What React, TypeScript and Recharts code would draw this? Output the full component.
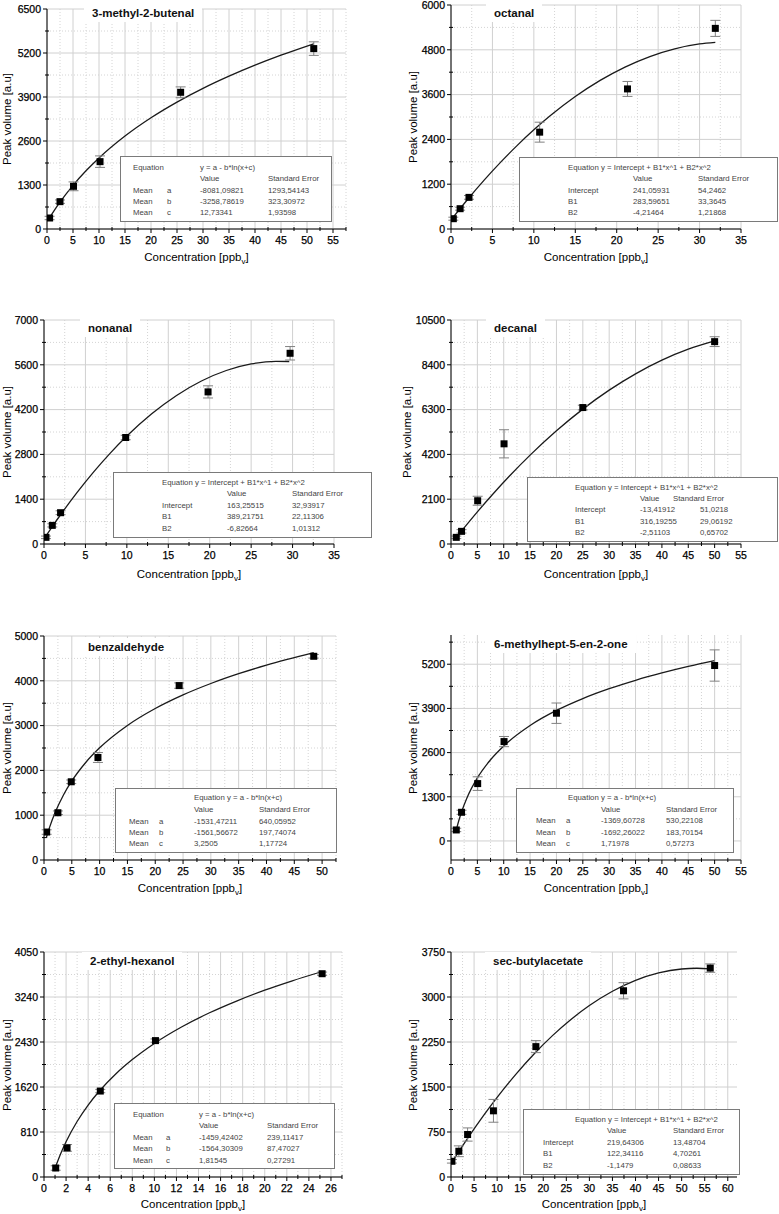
import React from "react";
import {
  CartesianGrid,
  ComposedChart,
  ErrorBar,
  Line,
  Scatter,
  XAxis,
  YAxis,
} from "recharts";

const FONT = '"Liberation Sans", Arial, Helvetica, sans-serif';

// ---- 3-methyl-2-butenal
const butenalConc = [0.5, 2.5, 5.1, 10.2, 25.7, 51.3];
const butenalPeak = [325, 808, 1261, 1990, 4039, 5330];
const butenalErr = [50, 50, 130, 170, 160, 200];
const butenalFitX = [0.5, 1.5, 2.5, 5, 7.5, 10, 15, 20, 25, 30, 35, 40, 45, 51.3];
const butenalFitY = [336, 573, 794, 1289, 1719, 2099, 2747, 3287, 3750, 4156, 4516, 4841, 5136, 5474];
const butenalXTicks = [0, 5, 10, 15, 20, 25, 30, 35, 40, 45, 50, 55];
const butenalYTicks = [0, 1300, 2600, 3900, 5200, 6500];
const butenalParams = [
  ["Mean", "a", "-8081,09821", "1293,54143"],
  ["Mean", "b", "-3258,78619", "323,30972"],
  ["Mean", "c", "12,73341", "1,93598"],
];

// ---- octanal
const octanalConc = [0.28, 1.1, 2.17, 10.7, 21.3, 31.9];
const octanalPeak = [276, 544, 847, 2594, 3752, 5374];
const octanalErr = [40, 40, 50, 267, 200, 215];
const octanalFitX = [0.28, 1, 2, 4, 6, 8, 10, 12, 15, 18, 21, 24, 27, 30, 31.9];
const octanalFitY = [320, 520, 791, 1308, 1791, 2240, 2656, 3037, 3547, 3980, 4338, 4620, 4826, 4956, 4999];
const octanalXTicks = [0, 5, 10, 15, 20, 25, 30, 35];
const octanalYTicks = [0, 1200, 2400, 3600, 4800, 6000];
const octanalParams = [
  ["Intercept", "241,05931", "54,2462"],
  ["B1", "283,59651", "33,3645"],
  ["B2", "-4,21464", "1,21868"],
];

// ---- nonanal
const nonanalConc = [0.24, 1.0, 2.0, 9.86, 19.8, 29.7];
const nonanalPeak = [208, 582, 978, 3328, 4753, 5960];
const nonanalErr = [40, 50, 60, 70, 190, 210];
const nonanalFitX = [0.24, 1, 2, 4, 6, 8, 10, 13, 16, 19, 22, 25, 28, 29.6];
const nonanalFitY = [256, 546, 914, 1611, 2253, 2840, 3373, 4069, 4643, 5094, 5422, 5627, 5709, 5703];
const nonanalXTicks = [0, 5, 10, 15, 20, 25, 30, 35];
const nonanalYTicks = [0, 1400, 2800, 4200, 5600, 7000];
const nonanalParams = [
  ["Intercept", "163,25515", "32,93917"],
  ["B1", "389,21751", "22,11306"],
  ["B2", "-6,82664", "1,01312"],
];

// ---- decanal
const decanalConc = [1.0, 2.0, 5.06, 10.06, 25.0, 50.0];
const decanalPeak = [312, 593, 2028, 4696, 6396, 9485];
const decanalErr = [60, 80, 210, 660, 110, 230];
const decanalFitX = [2, 5, 8, 11, 15, 20, 25, 30, 35, 40, 45, 50];
const decanalFitY = [609, 1505, 2355, 3161, 4165, 5306, 6322, 7212, 7977, 8617, 9130, 9519];
const decanalXTicks = [0, 5, 10, 15, 20, 25, 30, 35, 40, 45, 50, 55];
const decanalYTicks = [0, 2100, 4200, 6300, 8400, 10500];
const decanalParams = [
  ["Intercept", "-13,41912", "51,0218"],
  ["B1", "316,19255", "29,06192"],
  ["B2", "-2,51103", "0,65702"],
];

// ---- benzaldehyde
const benzConc = [0.48, 2.5, 4.9, 9.7, 24.3, 48.5];
const benzPeak = [624, 1055, 1746, 2288, 3893, 4547];
const benzErr = [50, 40, 40, 110, 60, 40];
const benzFitX = [0.4, 1, 2, 3.5, 5, 7.5, 10, 15, 20, 25, 30, 35, 40, 48.5];
const benzFitY = [491, 728, 1058, 1451, 1764, 2177, 2504, 3004, 3382, 3686, 3940, 4159, 4351, 4631];
const benzXTicks = [0, 5, 10, 15, 20, 25, 30, 35, 40, 45, 50];
const benzYTicks = [0, 1000, 2000, 3000, 4000, 5000];
const benzParams = [
  ["Mean", "a", "-1531,47211", "640,05952"],
  ["Mean", "b", "-1561,56672", "197,74074"],
  ["Mean", "c", "3,2505", "1,17724"],
];

// ---- 6-methylhept-5-en-2-one
const mhConc = [1.0, 2.0, 5.06, 10.06, 20.0, 50.0];
const mhPeak = [324, 844, 1688, 2924, 3759, 5162];
const mhErr = [50, 60, 200, 150, 300, 460];
const mhFitX = [1, 1.5, 2, 3, 5, 7.5, 10, 15, 20, 25, 30, 35, 40, 45, 50];
const mhFitY = [324, 609, 854, 1257, 1854, 2390, 2796, 3397, 3840, 4190, 4480, 4728, 4944, 5136, 5308];
const mhXTicks = [0, 5, 10, 15, 20, 25, 30, 35, 40, 45, 50, 55];
const mhYTicks = [0, 1300, 2600, 3900, 5200];
const mhParams = [
  ["Mean", "a", "-1369,60728", "530,22108"],
  ["Mean", "b", "-1692,26022", "183,70154"],
  ["Mean", "c", "1,71978", "0,57273"],
];

// ---- 2-ethyl-hexanol
const ehConc = [1.06, 2.09, 5.1, 10.1, 25.2];
const ehPeak = [162, 524, 1547, 2455, 3659];
const ehErr = [40, 60, 30, 30, 30];
const ehFitX = [1, 1.5, 2, 3, 4, 5, 6.5, 8, 10, 12.5, 15, 17.5, 20, 22.5, 25];
const ehFitY = [160, 416, 635, 999, 1295, 1543, 1854, 2113, 2404, 2704, 2956, 3172, 3363, 3532, 3686];
const ehXTicks = [0, 2, 4, 6, 8, 10, 12, 14, 16, 18, 20, 22, 24, 26];
const ehYTicks = [0, 810, 1620, 2430, 3240, 4050];
const ehParams = [
  ["Mean", "a", "-1459,42402", "239,11417"],
  ["Mean", "b", "-1564,30309", "87,47027"],
  ["Mean", "c", "1,81545", "0,27291"],
];

// ---- sec-butylacetate
const sbConc = [0.2, 1.7, 3.6, 9.2, 18.4, 37.4, 56.2];
const sbPeak = [262, 429, 708, 1103, 2173, 3104, 3482];
const sbErr = [30, 90, 110, 190, 100, 135, 70];
const sbFitX = [0.2, 2, 4, 7, 10, 14, 18, 22, 26, 30, 35, 40, 45, 50, 53.3, 56.2];
const sbFitY = [244, 460, 691, 1020, 1328, 1707, 2050, 2356, 2625, 2857, 3095, 3277, 3401, 3467, 3479, 3470];
const sbXTicks = [0, 5, 10, 15, 20, 25, 30, 35, 40, 45, 50, 55, 60];
const sbYTicks = [0, 750, 1500, 2250, 3000, 3750];
const sbParams = [
  ["Intercept", "219,64306", "13,48704"],
  ["B1", "122,34116", "4,70261"],
  ["B2", "-1,1479", "0,08633"],
];

const EQ_POLY = "Equation y = Intercept + B1*x^1 + B2*x^2";
const EQ_LOG = "y = a - b*ln(x+c)";

type Txt = [string, number, number];
type Spec = {
  title: string;
  box: [number, number, number, number];
  plot: [number, number, number, number];
  xDomain: [number, number];
  yDomain: [number, number];
  xTicks: number[];
  yTicks: number[];
  conc: number[];
  peak: number[];
  err: number[];
  fitX: number[];
  fitY: number[];
  titleAt: [number, number];
  yLabelX: number;
  xLabelY: number;
  tableRect: [number, number, number, number];
  tableTexts: Txt[];
};

function tableTexts(head: Txt[], rowYs: number[], colXs: number[], rows: string[][]): Txt[] {
  const out: Txt[] = [...head];
  rows.forEach((row, i) =>
    row.forEach((cell, j) => {
      out.push([cell, colXs[j], rowYs[i]]);
    })
  );
  return out;
}

const specs: Spec[] = [
  {
    title: "3-methyl-2-butenal",
    box: [0, 0, 390, 300],
    plot: [47, 346, 9, 229],
    xDomain: [0, 57.5],
    yDomain: [0, 6500],
    xTicks: butenalXTicks,
    yTicks: butenalYTicks,
    conc: butenalConc,
    peak: butenalPeak,
    err: butenalErr,
    fitX: butenalFitX,
    fitY: butenalFitY,
    titleAt: [92, 13],
    yLabelX: 7,
    xLabelY: 258,
    tableRect: [120, 156, 212, 66],
    tableTexts: tableTexts(
      [["Equation", 133, 168], [EQ_LOG, 200, 168], ["Value", 200, 179], ["Standard Error", 268, 179]],
      [191, 202, 213],
      [133, 167, 200, 268],
      butenalParams
    ),
  },
  {
    title: "octanal",
    box: [390, 0, 389, 300],
    plot: [451, 741, 5, 229],
    xDomain: [0, 35],
    yDomain: [0, 6000],
    xTicks: octanalXTicks,
    yTicks: octanalYTicks,
    conc: octanalConc,
    peak: octanalPeak,
    err: octanalErr,
    fitX: octanalFitX,
    fitY: octanalFitY,
    titleAt: [494, 13],
    yLabelX: 413,
    xLabelY: 258,
    tableRect: [519, 157, 259, 65],
    tableTexts: tableTexts(
      [[EQ_POLY, 568, 168], ["Value", 633, 179], ["Standard Error", 698, 179]],
      [191, 202, 213],
      [568, 633, 698],
      octanalParams
    ),
  },
  {
    title: "nonanal",
    box: [0, 300, 390, 300],
    plot: [44, 334, 320, 544],
    xDomain: [0, 35],
    yDomain: [0, 7000],
    xTicks: nonanalXTicks,
    yTicks: nonanalYTicks,
    conc: nonanalConc,
    peak: nonanalPeak,
    err: nonanalErr,
    fitX: nonanalFitX,
    fitY: nonanalFitY,
    titleAt: [88, 328],
    yLabelX: 7,
    xLabelY: 575,
    tableRect: [113, 472, 259, 66],
    tableTexts: tableTexts(
      [[EQ_POLY, 162, 483], ["Value", 227, 494], ["Standard Error", 292, 494]],
      [506, 517, 529],
      [162, 227, 292],
      nonanalParams
    ),
  },
  {
    title: "decanal",
    box: [390, 300, 389, 300],
    plot: [451, 741, 320, 544],
    xDomain: [0, 55],
    yDomain: [0, 10500],
    xTicks: decanalXTicks,
    yTicks: decanalYTicks,
    conc: decanalConc,
    peak: decanalPeak,
    err: decanalErr,
    fitX: decanalFitX,
    fitY: decanalFitY,
    titleAt: [494, 328],
    yLabelX: 407,
    xLabelY: 575,
    tableRect: [527, 477, 251, 65],
    tableTexts: tableTexts(
      [[EQ_POLY, 575, 488], ["Value", 640, 499], ["Standard Error", 673, 499]],
      [510, 522, 533],
      [575, 640, 700],
      decanalParams
    ),
  },
  {
    title: "benzaldehyde",
    box: [0, 600, 390, 300],
    plot: [44, 336, 636, 860],
    xDomain: [0, 52.5],
    yDomain: [0, 5000],
    xTicks: benzXTicks,
    yTicks: benzYTicks,
    conc: benzConc,
    peak: benzPeak,
    err: benzErr,
    fitX: benzFitX,
    fitY: benzFitY,
    titleAt: [88, 647],
    yLabelX: 7,
    xLabelY: 889,
    tableRect: [115, 788, 222, 65],
    tableTexts: tableTexts(
      [["Equation " + EQ_LOG, 194, 798], ["Value", 194, 810], ["Standard Error", 259, 810]],
      [822, 833, 844],
      [129, 159, 194, 259],
      benzParams
    ),
  },
  {
    title: "6-methylhept-5-en-2-one",
    box: [390, 600, 389, 300],
    plot: [451, 741, 635, 860],
    xDomain: [0, 55],
    yDomain: [-560, 6060],
    xTicks: mhXTicks,
    yTicks: mhYTicks,
    conc: mhConc,
    peak: mhPeak,
    err: mhErr,
    fitX: mhFitX,
    fitY: mhFitY,
    titleAt: [494, 644],
    yLabelX: 413,
    xLabelY: 889,
    tableRect: [516, 788, 218, 65],
    tableTexts: tableTexts(
      [["Equation " + EQ_LOG, 568, 798], ["Value", 601, 810], ["Standard Error", 666, 810]],
      [821, 833, 844],
      [536, 566, 601, 666],
      mhParams
    ),
  },
  {
    title: "2-ethyl-hexanol",
    box: [0, 900, 390, 314],
    plot: [44, 342, 952, 1177],
    xDomain: [0, 27],
    yDomain: [0, 4050],
    xTicks: ehXTicks,
    yTicks: ehYTicks,
    conc: ehConc,
    peak: ehPeak,
    err: ehErr,
    fitX: ehFitX,
    fitY: ehFitY,
    titleAt: [90, 961],
    yLabelX: 7,
    xLabelY: 1205,
    tableRect: [114, 1103, 221, 66],
    tableTexts: tableTexts(
      [["Equation", 133, 1115], [EQ_LOG, 199, 1115], ["Value", 199, 1126], ["Standard Error", 267, 1126]],
      [1138, 1149, 1161],
      [133, 166, 199, 267],
      ehParams
    ),
  },
  {
    title: "sec-butylacetate",
    box: [390, 900, 389, 314],
    plot: [451, 737, 952, 1177],
    xDomain: [0, 62],
    yDomain: [0, 3750],
    xTicks: sbXTicks,
    yTicks: sbYTicks,
    conc: sbConc,
    peak: sbPeak,
    err: sbErr,
    fitX: sbFitX,
    fitY: sbFitY,
    titleAt: [493, 961],
    yLabelX: 413,
    xLabelY: 1205,
    tableRect: [523, 1109, 217, 66],
    tableTexts: tableTexts(
      [[EQ_POLY, 575, 1120], ["Value", 607, 1131], ["Standard Error", 673, 1131]],
      [1143, 1154, 1166],
      [543, 607, 673],
      sbParams
    ),
  },
];

// half-step ticks between the labelled ones
function minorTicks(major: number[], domain: [number, number]) {
  const step = major[1] - major[0];
  const out: number[] = [];
  for (let v = major[0] - step / 2; v <= domain[1] + 1e-9; v += step) {
    if (v >= domain[0] - 1e-9) out.push(v);
  }
  return out;
}

const isIn = (list: number[], v: number) => list.some((m) => Math.abs(m - v) < 1e-6);

const xTick = (majors: number[]) => (props: any) => {
  const { x, y, payload } = props;
  const major = isIn(majors, payload.value);
  return (
    <g>
      <line x1={x} x2={x} y1={major ? y : y - 2} y2={y + (major ? 4 : 2)} stroke="#000" />
      {major && (
        <text
          x={x}
          y={y + 8}
          dy="0.71em"
          textAnchor="middle"
          fontSize={10.5}
          fontFamily={FONT}
          fill="#000"
          stroke="#000"
          strokeWidth={0.25}
        >
          {payload.value}
        </text>
      )}
    </g>
  );
};

const yTick = (majors: number[]) => (props: any) => {
  const { x, y, payload } = props;
  const major = isIn(majors, payload.value);
  return (
    <g>
      <line x1={x - (major ? 4 : 2)} x2={major ? x : x + 2} y1={y} y2={y} stroke="#000" />
      {major && (
        <text
          x={x - 6}
          y={y}
          dy="0.355em"
          textAnchor="end"
          fontSize={10.5}
          fontFamily={FONT}
          fill="#000"
          stroke="#000"
          strokeWidth={0.25}
        >
          {payload.value}
        </text>
      )}
    </g>
  );
};

const square = (p: any) => (
  <rect x={p.cx - 3.5} y={p.cy - 3.5} width={7} height={7} fill="#000" />
);

function CalPanel({ s }: { s: Spec }) {
  const [ox, oy, w, h] = s.box;
  const [l, r, t, b] = s.plot;
  const points = s.conc.map((x, i) => ({ x, y: s.peak[i], err: s.err[i] }));
  const fit = s.fitX.map((x, i) => ({ x, y: s.fitY[i] }));
  const xMinor = minorTicks(s.xTicks, s.xDomain);
  const yMinor = minorTicks(s.yTicks, s.yDomain);
  const xAll = [...s.xTicks, ...xMinor].sort((a, c) => a - c);
  const yAll = [...s.yTicks, ...yMinor].sort((a, c) => a - c);

  // grid line positions inside this chart's svg
  const gx = (v: number) => l - ox + ((v - s.xDomain[0]) / (s.xDomain[1] - s.xDomain[0])) * (r - l);
  const gy = (v: number) => t - oy + ((s.yDomain[1] - v) / (s.yDomain[1] - s.yDomain[0])) * (b - t);

  return (
    <div style={{ position: "absolute", left: ox, top: oy, width: w, height: h }}>
      <ComposedChart
        width={w}
        height={h}
        margin={{ top: t - oy, right: ox + w - r, bottom: oy + h - b - 30, left: 0 }}
      >
        <CartesianGrid
          stroke="#d4d4d4"
          strokeDasharray="1 2"
          horizontalPoints={yMinor.map(gy)}
          verticalPoints={xMinor.map(gx)}
        />
        <CartesianGrid
          stroke="#d0d0d0"
          horizontalPoints={s.yTicks.map(gy)}
          verticalPoints={s.xTicks.map(gx)}
        />
        <XAxis
          dataKey="x"
          type="number"
          domain={s.xDomain}
          allowDataOverflow
          ticks={xAll}
          interval={0}
          height={30}
          tickSize={0}
          tickMargin={0}
          tickLine={false}
          axisLine={{ stroke: "#000" }}
          tick={xTick(s.xTicks)}
        />
        <YAxis
          dataKey="y"
          type="number"
          domain={s.yDomain}
          allowDataOverflow
          ticks={yAll}
          interval={0}
          width={l - ox}
          tickSize={0}
          tickMargin={0}
          tickLine={false}
          axisLine={{ stroke: "#000" }}
          tick={yTick(s.yTicks)}
        />
        <Line
          data={fit}
          dataKey="y"
          type="monotone"
          dot={false}
          activeDot={false}
          stroke="#1a1a1a"
          strokeWidth={1.3}
          isAnimationActive={false}
        />
        <Scatter data={points} dataKey="y" shape={square} isAnimationActive={false}>
          <ErrorBar dataKey="err" direction="y" width={5} stroke="#808080" strokeWidth={1} />
        </Scatter>
      </ComposedChart>
    </div>
  );
}

function Overlay({ s }: { s: Spec }) {
  const [l, r, t, b] = s.plot;
  const [tx, ty, tw, th] = s.tableRect;
  return (
    <>
      <div
        style={{
          position: "absolute",
          left: s.titleAt[0] - 8,
          top: s.titleAt[1] - 9,
          padding: "2px 8px",
          lineHeight: "14px",
          background: "#fff",
          fontSize: 11.5,
          fontWeight: 700,
          color: "#111",
          whiteSpace: "nowrap",
        }}
      >
        {s.title}
      </div>
      <div
        style={{
          position: "absolute",
          left: s.yLabelX,
          top: (t + b) / 2,
          transform: "translate(-50%, -50%) rotate(-90deg)",
          fontSize: 11.5,
          color: "#000",
          whiteSpace: "nowrap",
        }}
      >
        Peak volume [a.u]
      </div>
      <div
        style={{
          position: "absolute",
          left: (l + r) / 2,
          top: s.xLabelY,
          transform: "translate(-50%, -50%)",
          fontSize: 11.5,
          color: "#000",
          whiteSpace: "nowrap",
        }}
      >
        Concentration [ppb<sub style={{ fontSize: 8, verticalAlign: -3 }}>v</sub>]
      </div>
      <div
        style={{
          position: "absolute",
          left: tx,
          top: ty,
          width: tw,
          height: th,
          boxSizing: "border-box",
          border: "1px solid #7a7a7a",
          background: "#fff",
        }}
      />
      {s.tableTexts.map(([text, x, y], i) => (
        <div
          key={i}
          style={{
            position: "absolute",
            left: x,
            top: y - 5,
            lineHeight: "10px",
            fontSize: 7.8,
            color: "#444",
            whiteSpace: "nowrap",
          }}
        >
          {text}
        </div>
      ))}
    </>
  );
}

export default function App() {
  return (
    <div
      style={{
        position: "absolute",
        left: 0,
        top: 0,
        width: 779,
        height: 1214,
        background: "#fff",
        fontFamily: FONT,
        overflow: "hidden",
      }}
    >
      {specs.map((s) => (
        <CalPanel key={s.title} s={s} />
      ))}
      {specs.map((s) => (
        <Overlay key={"o" + s.title} s={s} />
      ))}
    </div>
  );
}
